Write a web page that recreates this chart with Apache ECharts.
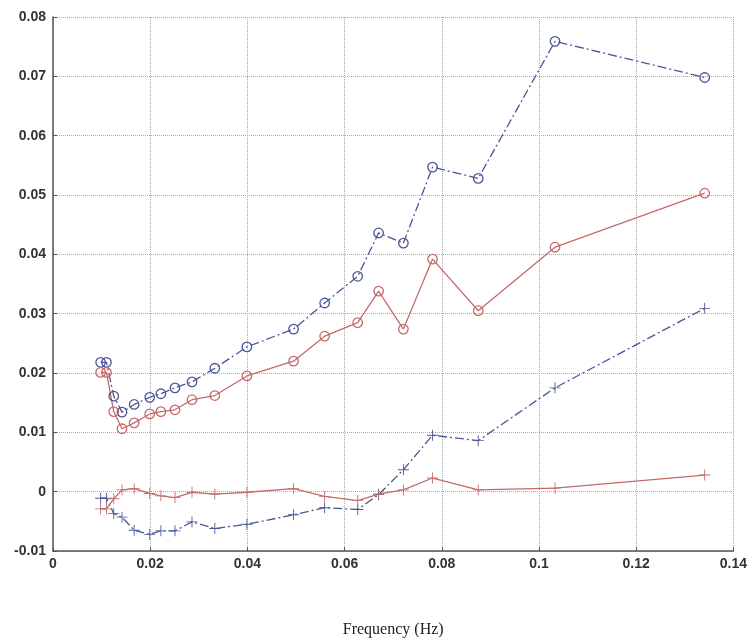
<!DOCTYPE html>
<html>
<head>
<meta charset="utf-8">
<script src="https://cdn.jsdelivr.net/npm/echarts@6/dist/echarts.min.js"></script>
<style>html,body{margin:0;padding:0;background:#fff;}#c{width:750px;height:644px;}</style>
</head>
<body>
<div id="c"></div>
<script>
const freq = [0.0098, 0.0110, 0.0125, 0.0142, 0.0167, 0.0199, 0.0222, 0.0251, 0.0286, 0.0333, 0.0399, 0.0495, 0.0559, 0.0627, 0.0670, 0.0721, 0.0781, 0.0875, 0.1033, 0.1341];
const blueCircle = [0.0218, 0.0218, 0.0161, 0.0134, 0.0147, 0.0159, 0.0165, 0.0175, 0.0185, 0.0208, 0.0244, 0.0274, 0.0318, 0.0363, 0.0436, 0.0419, 0.0547, 0.0528, 0.0759, 0.0698];
const redCircle = [0.0201, 0.0201, 0.0135, 0.0106, 0.0116, 0.0131, 0.0135, 0.0138, 0.0155, 0.0162, 0.0195, 0.0220, 0.0262, 0.0285, 0.0338, 0.0274, 0.0392, 0.0305, 0.0412, 0.0503];
const bluePlus = [-0.0011, -0.0011, -0.0037, -0.0043, -0.0065, -0.0072, -0.0066, -0.0066, -0.0051, -0.0062, -0.0055, -0.0039, -0.0027, -0.0030, -0.0005, 0.0037, 0.0095, 0.0086, 0.0175, 0.0309];
const redPlus = [-0.0029, -0.0029, -0.0012, 0.0003, 0.0005, -0.0003, -0.0007, -0.0010, -0.0001, -0.0004, -0.0001, 0.0005, -0.0008, -0.0015, -0.0004, 0.0003, 0.0023, 0.0003, 0.0006, 0.0028];
const xLabel = 'Frequency (Hz)';

const BLUE = '#4b5794';
const RED = '#c46a6a';
const plusPath = 'path://M9.2,0H10.8V9.2H20V10.8H10.8V20H9.2V10.8H0V9.2H9.2Z';
const pairs = ys => freq.map((f, i) => [f, ys[i]]);

function mk(ys, color, dashed, circle) {
  return {
    type: 'line',
    data: pairs(ys),
    symbol: circle ? 'circle' : plusPath,
    symbolSize: circle ? 9.5 : 11,
    showAllSymbol: true,
    lineStyle: { color: color, width: 1.3, type: dashed ? [9, 3, 2, 3] : 'solid' },
    itemStyle: circle ? { color: 'transparent', borderColor: color, borderWidth: 1.3 } : { color: color },
    emphasis: { disabled: true },
    animation: false
  };
}

const chart = echarts.init(document.getElementById('c'), null, { renderer: 'canvas' });
chart.setOption({
  backgroundColor: '#fff',
  animation: false,
  grid: { left: 53, right: 15, top: 17, bottom: 93 },
  xAxis: {
    type: 'value', min: 0, max: 0.14, interval: 0.02,
    name: xLabel, nameLocation: 'middle', nameGap: 71,
    nameTextStyle: { fontFamily: 'Liberation Serif', fontSize: 16, color: '#222' },
    axisLine: { onZero: false, lineStyle: { color: '#555', width: 1.5 } },
    axisTick: { inside: true, length: 4, lineStyle: { color: '#555' } },
    axisLabel: { fontFamily: 'Liberation Sans', fontSize: 14, fontWeight: 'bold', color: '#333', margin: 6,
      formatter: v => String(+v.toFixed(2)) },
    splitLine: { show: true, lineStyle: { type: 'dotted', color: '#aaa', width: 1 } }
  },
  yAxis: {
    type: 'value', min: -0.01, max: 0.08, interval: 0.01,
    axisLine: { show: true, onZero: false, lineStyle: { color: '#555', width: 1.5 } },
    axisTick: { show: true, inside: true, length: 4, lineStyle: { color: '#555' } },
    axisLabel: { fontFamily: 'Liberation Sans', fontSize: 14, fontWeight: 'bold', color: '#333', margin: 7,
      formatter: v => String(+v.toFixed(2)) },
    splitLine: { show: true, lineStyle: { type: 'dotted', color: '#aaa', width: 1 } }
  },
  series: [
    mk(blueCircle, BLUE, true, true),
    mk(redCircle, RED, false, true),
    mk(bluePlus, BLUE, true, false),
    mk(redPlus, RED, false, false)
  ]
});
</script>
</body>
</html>
